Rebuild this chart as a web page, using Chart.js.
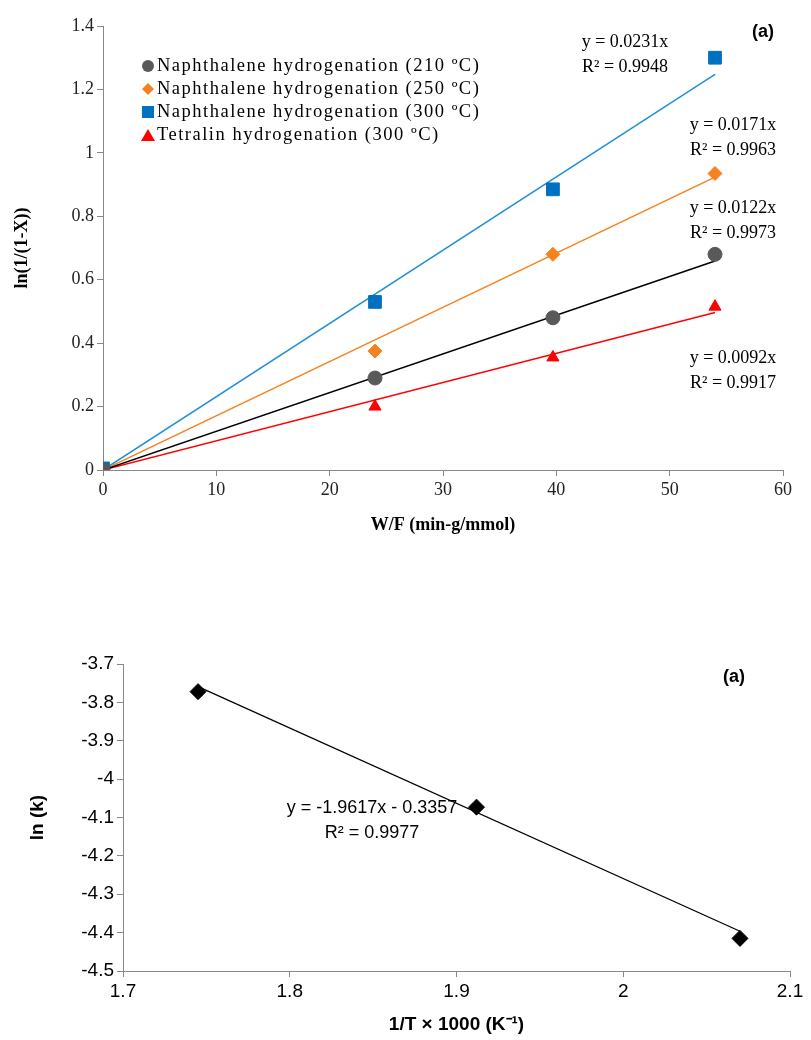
<!DOCTYPE html>
<html><head><meta charset="utf-8">
<script src="https://cdn.jsdelivr.net/npm/chart.js@4"></script>
<style>body{margin:0;background:#fff;width:811px;height:1040px;position:relative;overflow:hidden}
#c1{position:absolute;left:0;top:0}#c2{position:absolute;left:0;top:640px}</style></head>
<body><canvas id="c1" width="811" height="540"></canvas><canvas id="c2" width="811" height="400"></canvas>
<script>
const wf = [0, 24, 39.7, 54];
const s210 = [0, 0.29, 0.48, 0.68];
const s250 = [0, 0.375, 0.68, 0.935];
const s300 = [0.005, 0.53, 0.885, 1.3];
const tetra = [0, 0.2, 0.355, 0.515];
const slopes = [0.0122, 0.0171, 0.0231, 0.0092];
const r2 = [0.9973, 0.9963, 0.9948, 0.9917];
const labels = ['Naphthalene hydrogenation (210 ºC)','Naphthalene hydrogenation (250 ºC)','Naphthalene hydrogenation (300 ºC)','Tetralin hydrogenation (300 ºC)'];
const invT = [1.745, 1.912, 2.070];
const lnk = [-3.772, -4.073, -4.415];
const arrSlope = -1.9617, arrInt = -0.3357, arrR2 = 0.9977;

Chart.defaults.animation = false;
Chart.defaults.responsive = false;
const serif = 'Liberation Serif';
const sans = "'Liberation Sans'";
const mk = [
 {c:'#595959', l:'#000000', s:'circle', r:7},
 {c:'#F58220', l:'#F58220', s:'rectRot', r:7},
 {c:'#0070C0', l:'#1E90D8', s:'rect', r:9},
 {c:'#FF0000', l:'#FF0000', s:'triangle', r:7}
];
const series = [s210, s250, s300, tetra];
const ds = [];
series.forEach((s,i)=>{
  ds.push({type:'line', data:[{x:0,y:0},{x:54,y:slopes[i]*54}], borderColor:mk[i].l, borderWidth:1.5, pointRadius:0, order:2});
});
series.forEach((s,i)=>{
  ds.push({type:'scatter', label:labels[i], data:wf.map((x,j)=>({x, y:s[j]})), backgroundColor:mk[i].c, borderColor:mk[i].c, pointStyle:mk[i].s, pointRadius:mk[i].r, order:1});
});
const txt1 = {id:'t1', afterDraw(ch){
  const c=ch.ctx; c.save();
  c.font='18.5px '+serif; c.fillStyle='#000'; c.textBaseline='middle';
  c.letterSpacing='1.5px';
  labels.forEach((l,i)=>{
    const y=66+i*23, x=148;
    c.fillStyle=mk[i].c; c.beginPath();
    if(mk[i].s==='circle'){c.arc(x,y,6,0,Math.PI*2);}
    else if(mk[i].s==='rectRot'){c.moveTo(x,y-6);c.lineTo(x+6,y);c.lineTo(x,y+6);c.lineTo(x-6,y);}
    else if(mk[i].s==='rect'){c.rect(x-6,y-6,12,12);}
    else {c.moveTo(x,y-6);c.lineTo(x+7,y+6);c.lineTo(x-7,y+6);}
    c.fill(); c.fillStyle='#000'; c.textAlign='left'; c.fillText(l,x+9,y);
  });
  c.letterSpacing='0px';
  c.font='18px '+serif;
  c.textAlign='center';
  const ann=[[2,625,42],[1,733,125],[0,733,208],[3,733,358]];
  ann.forEach(([i,x,y])=>{c.fillText('y = '+slopes[i].toFixed(4)+'x',x,y);c.fillText('R² = '+r2[i].toFixed(4),x,y+25);});
  c.font='bold 18px '+sans; c.fillText('(a)',763,32);
  c.restore();
}};
new Chart(document.getElementById('c1'), {
  data:{datasets:ds},
  options:{layout:{padding:{left:8,right:28,top:26,bottom:0}},
    plugins:{legend:{display:false},tooltip:{enabled:false}},
    scales:{
      x:{type:'linear',min:0,max:60,ticks:{stepSize:10,color:'#222',font:{family:serif,size:18}},
        grid:{drawOnChartArea:false,tickLength:6,color:'#888'},border:{color:'#888'},
        title:{display:true,text:'W/F (min-g/mmol)',font:{family:serif,size:18,weight:'bold'},color:'#000',padding:{top:6}},
        afterFit(s){s.height=70;}},
      y:{min:0,max:1.4,ticks:{stepSize:0.2,color:'#222',font:{family:serif,size:18},callback:v=>+v.toFixed(1)},
        grid:{drawOnChartArea:false,tickLength:6,color:'#888'},border:{color:'#888'},
        title:{display:true,text:'ln(1/(1-X))',font:{family:serif,size:18,weight:'bold'},color:'#000'},
        afterFit(s){s.width=95;}}
    }},
  plugins:[txt1]
});
const txt2={id:'t2',afterDraw(ch){
  const c=ch.ctx;c.save();c.fillStyle='#000';c.textAlign='center';c.textBaseline='middle';
  c.font='18px '+sans;
  c.fillText('y = '+arrSlope+'x - '+Math.abs(arrInt),372,168);
  c.fillText('R² = '+arrR2,372,193);
  c.font='bold 18px '+sans;c.fillText('(a)',734,37);
  c.restore();
}};
new Chart(document.getElementById('c2'), {
  data:{datasets:[
    {type:'line',data:[{x:1.745,y:arrSlope*1.745+arrInt},{x:2.07,y:arrSlope*2.07+arrInt}],borderColor:'#000',borderWidth:1.3,pointRadius:0},
    {type:'scatter',data:invT.map((x,i)=>({x,y:lnk[i]})),pointStyle:'rectRot',pointRadius:8,backgroundColor:'#000',borderColor:'#000'}
  ]},
  options:{layout:{padding:{left:22,right:21,top:24,bottom:0}},
    plugins:{legend:{display:false},tooltip:{enabled:false}},
    scales:{
      x:{type:'linear',min:1.7,max:2.1,ticks:{stepSize:0.1,color:'#000',font:{family:sans,size:19},callback:v=>+v.toFixed(1)},
        grid:{drawOnChartArea:false,tickLength:6,color:'#888'},border:{color:'#888'},
        title:{display:true,text:'1/T × 1000 (K⁻¹)',font:{family:sans,size:19,weight:'bold'},color:'#000',padding:{top:0}},
        afterFit(s){s.height=69;}},
      y:{min:-4.5,max:-3.7,ticks:{stepSize:0.1,color:'#000',font:{family:sans,size:19},callback:v=>+v.toFixed(1)},
        grid:{drawOnChartArea:false,tickLength:6,color:'#888'},border:{color:'#888'},
        title:{display:true,text:'ln (k)',font:{family:sans,size:19,weight:'bold'},color:'#000'},
        afterFit(s){s.width=101;}}
    }},
  plugins:[txt2]
});
</script></body></html>
